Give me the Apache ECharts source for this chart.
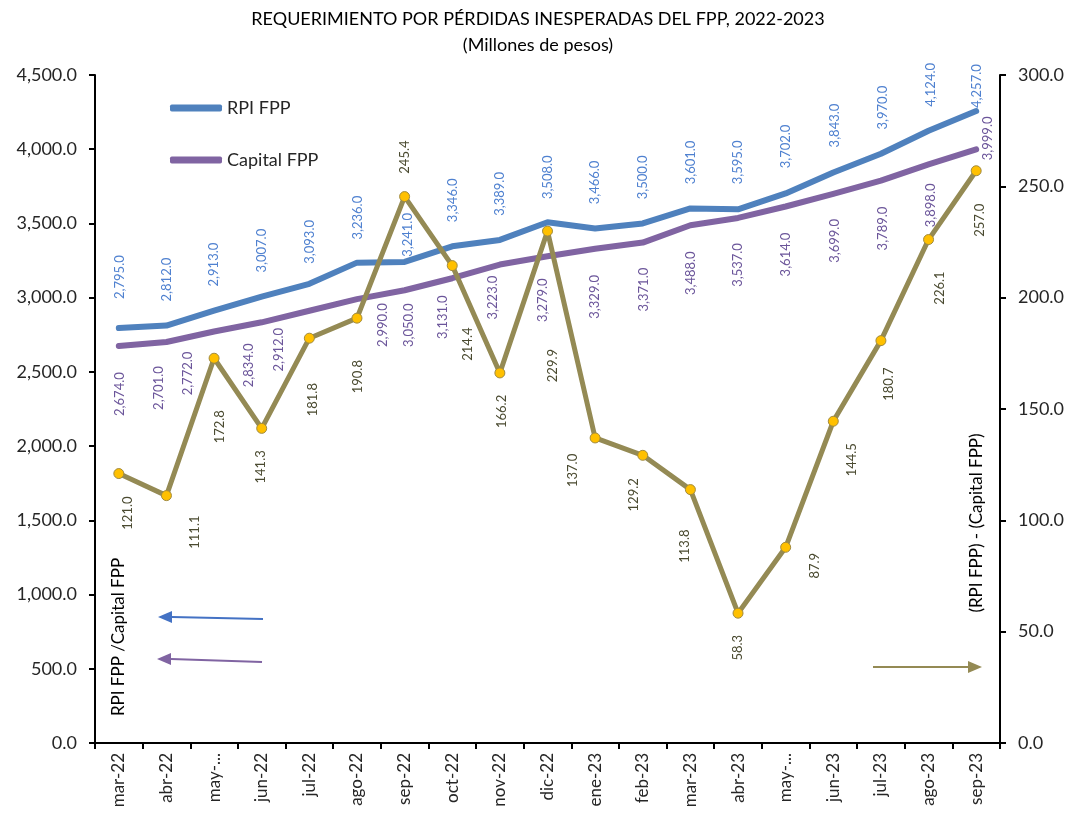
<!DOCTYPE html>
<html>
<head>
<meta charset="utf-8">
<script src="https://cdn.jsdelivr.net/npm/echarts@6/dist/echarts.min.js"></script>
<style>
  html, body { margin: 0; padding: 0; background: #fff; }
  #chart { width: 1076px; height: 823px; }
</style>
</head>
<body>
<div id="chart"></div>
<script>
// Data
const months = ['mar-22', 'abr-22', 'may-22', 'jun-22', 'jul-22', 'ago-22', 'sep-22', 'oct-22', 'nov-22', 'dic-22',
    'ene-23', 'feb-23', 'mar-23', 'abr-23', 'may-23', 'jun-23', 'jul-23', 'ago-23', 'sep-23'];
const rpiFpp = [2795, 2812, 2913, 3007, 3093, 3236, 3241, 3346, 3389, 3508, 3466, 3500, 3601, 3595, 3702, 3843, 3970, 4124, 4257];
const capitalFpp = [2674, 2701, 2772, 2834, 2912, 2990, 3050, 3131, 3223, 3279, 3329, 3371, 3488, 3537, 3614, 3699, 3789, 3898, 3999];
const diffFpp = [121.0, 111.1, 172.8, 141.3, 181.8, 190.8, 245.4, 214.4, 166.2, 229.9, 137.0, 129.2, 113.8, 58.3, 87.9, 144.5, 180.7, 226.1, 257.0];
const leftTicks = { min: 0, max: 4500, interval: 500 };
const rightTicks = { min: 0, max: 300, interval: 50 };

// Label placement (pixel shift of each label centre from its point), layout only
const rpiLabelShift = [[1, -51], [0, -46], [0, -46], [0, -46], [0, -42], [1, -45], [3, -27], [1, -46], [0, -46], [0, -45],
    [0, -46], [0, -46], [0, -46], [0, -47], [0, -47], [2, -47], [2, -46], [2, -46], [1, -25]];
const capitalLabelShift = [[1, 48], [-8, 46], [-26, 42], [-13, 43], [-31, 39], [26, 26], [4, 35], [-9, 39], [-7, 33], [-5, 44],
    [0, 48], [1, 47], [0, 48], [0, 47], [0, 48], [2, 47], [2, 48], [2, 41], [12, -11]];
const diffLabelShift = [[9, 40], [29, 37], [6, 69], [0, 39], [4, 62], [1, 59], [1, -39], [16, 79], [2, 39], [6, 135],
    [-22, 33], [-8, 40], [-5, 57], [0, 35], [30, 19], [19, 39], [8, 44], [12, 49], [4, 50]];

const FONT = 'Lato, "Open Sans", sans-serif';
const fmt1 = v => Number(v).toLocaleString('en-US', { minimumFractionDigits: 1, maximumFractionDigits: 1 });

const withLabels = (values, shifts, size) => values.map((v, i) => ({
    value: v,
    label: { position: [size / 2 + shifts[i][0], size / 2 + shifts[i][1]] }
}));

const rotatedLabel = (color) => ({
    show: true,
    rotate: 90,
    align: 'center',
    verticalAlign: 'middle',
    color: color,
    fontSize: 13,
    fontFamily: FONT,
    formatter: p => fmt1(p.value)
});

const chart = echarts.init(document.getElementById('chart'), null, { renderer: 'canvas' });

// arrows pointing at each axis
const arrow = (x1, y1, x2, y2, color) => {
    const dir = Math.sign(x2 - x1);
    const bx = x2 - dir * 14;
    return [
        { type: 'line', shape: { x1: x1, y1: y1, x2: bx, y2: y2 }, style: { stroke: color, lineWidth: 2 }, z: 100 },
        { type: 'polygon', shape: { points: [[x2, y2], [bx, y2 - 6], [bx, y2 + 6]] }, style: { fill: color }, z: 100 }
    ];
};

const option = {
    animation: false,
    backgroundColor: '#fff',
    title: {
        text: 'REQUERIMIENTO POR PÉRDIDAS INESPERADAS DEL FPP, 2022-2023',
        subtext: '(Millones de pesos)',
        left: 'center',
        top: 3,
        itemGap: 4,
        textStyle: { fontFamily: FONT, fontSize: 18, fontWeight: 'normal', color: '#000', lineHeight: 22 },
        subtextStyle: { fontFamily: FONT, fontSize: 18, color: '#000', lineHeight: 22 }
    },
    legend: {
        data: ['RPI FPP', 'Capital FPP'],
        orient: 'vertical',
        left: 165,
        top: 94,
        itemGap: 34,
        itemWidth: 52,
        itemHeight: 7,
        icon: 'roundRect',
        textStyle: { fontFamily: FONT, fontSize: 18, color: '#262626' }
    },
    grid: { left: 95, right: 76, top: 75, bottom: 80 },
    xAxis: {
        type: 'category',
        data: months,
        boundaryGap: true,
        axisLine: { lineStyle: { color: '#000', width: 2 } },
        axisTick: { show: true, length: 6, lineStyle: { color: '#000', width: 2 } },
        axisLabel: {
            interval: 0,
            rotate: 90,
            margin: 10,
            fontFamily: FONT,
            fontSize: 17,
            color: '#262626',
            formatter: v => v.startsWith('may') ? 'may-...' : v
        },
        splitLine: { show: false }
    },
    yAxis: [
        {
            type: 'value',
            min: leftTicks.min,
            max: leftTicks.max,
            interval: leftTicks.interval,
            axisLine: { show: true, lineStyle: { color: '#000', width: 2 } },
            axisTick: { show: true, length: 6, lineStyle: { color: '#000', width: 2 } },
            axisLabel: { margin: 18, fontFamily: FONT, fontSize: 18, color: '#262626', formatter: fmt1 },
            splitLine: { show: false }
        },
        {
            type: 'value',
            position: 'right',
            min: rightTicks.min,
            max: rightTicks.max,
            interval: rightTicks.interval,
            alignTicks: false,
            axisLine: { show: true, lineStyle: { color: '#000', width: 2 } },
            axisTick: { show: true, length: 6, lineStyle: { color: '#000', width: 2 } },
            axisLabel: { margin: 18, fontFamily: FONT, fontSize: 18, color: '#262626', formatter: fmt1 },
            splitLine: { show: false }
        }
    ],
    series: [
        {
            name: 'RPI FPP',
            type: 'line',
            yAxisIndex: 0,
            data: withLabels(rpiFpp, rpiLabelShift, 2),
            symbol: 'circle',
            symbolSize: 2,
            showSymbol: true,
            itemStyle: { color: '#4F81BD' },
            lineStyle: { color: '#4F81BD', width: 6, cap: 'round', join: 'round' },
            label: rotatedLabel('#4F81D0'),
            emphasis: { disabled: true },
            z: 2
        },
        {
            name: 'Capital FPP',
            type: 'line',
            yAxisIndex: 0,
            data: withLabels(capitalFpp, capitalLabelShift, 2),
            symbol: 'circle',
            symbolSize: 2,
            showSymbol: true,
            itemStyle: { color: '#8064A2' },
            lineStyle: { color: '#8064A2', width: 6, cap: 'round', join: 'round' },
            label: rotatedLabel('#6B559A'),
            emphasis: { disabled: true },
            z: 2
        },
        {
            name: '(RPI FPP) - (Capital FPP)',
            type: 'line',
            yAxisIndex: 1,
            data: withLabels(diffFpp, diffLabelShift, 10),
            symbol: 'circle',
            symbolSize: 10,
            showSymbol: true,
            itemStyle: { color: '#FFC000', borderColor: '#A08A40', borderWidth: 1 },
            lineStyle: { color: '#948A54', width: 5, cap: 'round', join: 'round' },
            label: rotatedLabel('#4A4A30'),
            emphasis: { disabled: true },
            z: 3
        }
    ],
    graphic: [
        ...arrow(263, 619, 158, 617, '#4472C4'),
        ...arrow(262, 662, 157, 659, '#8064A2'),
        ...arrow(873, 667, 982, 667, '#948A54'),
        {
            type: 'text', x: 119, y: 637, rotation: Math.PI / 2, z: 100,
            style: { text: 'RPI FPP /Capital FPP', align: 'center', verticalAlign: 'middle', fontFamily: FONT, fontSize: 17, fill: '#000' }
        },
        {
            type: 'text', x: 977, y: 523, rotation: Math.PI / 2, z: 100,
            style: { text: '(RPI FPP) - (Capital FPP)', align: 'center', verticalAlign: 'middle', fontFamily: FONT, fontSize: 17, fill: '#000' }
        }
    ]
};

chart.setOption(option);
</script>
</body>
</html>
